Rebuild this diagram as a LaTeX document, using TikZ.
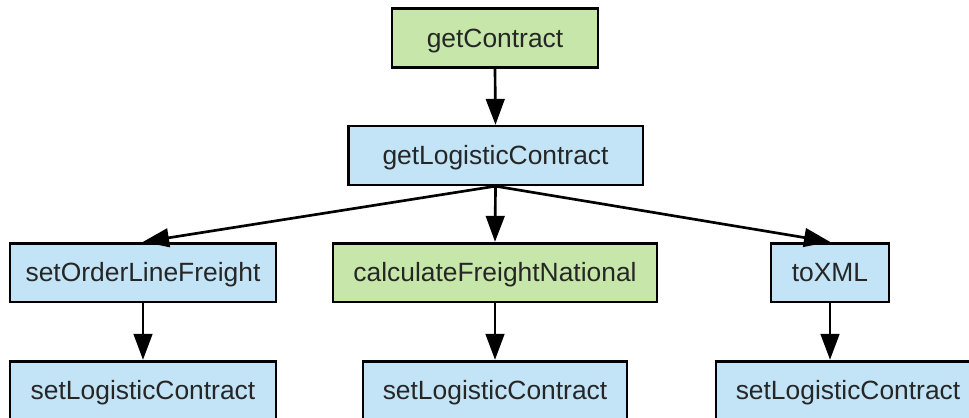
\documentclass[tikz,border=0pt]{standalone}
\usepackage{fontspec}
\setmainfont{Liberation Sans}
\usetikzlibrary{arrows.meta}
\definecolor{callgreen}{HTML}{C6E7A9}
\definecolor{callblue}{HTML}{C3E4F6}
\definecolor{labelgray}{HTML}{262626}
\begin{document}
\begin{tikzpicture}[x=0.75pt,y=-0.75pt,
  fn/.style={draw=black, line width=2pt, inner sep=0pt, minimum height=44pt,
    text height=14pt, text depth=0pt,
    text=labelgray, font=\fontsize{19.8pt}{24pt}\selectfont},
  fngreen/.style={fn, fill=callgreen},
  fnblue/.style={fn, fill=callblue},
  call/.style={line width=2pt, -{Triangle[length=19.5pt,width=14pt]}}]
\useasboundingbox (0,0) rectangle (969,417);

% root and its single callee
\node[fngreen, minimum width=154.5pt] (gc)  at (495,38)    {getContract};
\node[fnblue,  minimum width=221pt]   (glc) at (495.5,155.5) {getLogisticContract};

% second level
\node[fnblue,  minimum width=199.5pt] (solf) at (143,272.5) {setOrderLineFreight};
\node[fngreen, minimum width=243pt]   (cfn)  at (495,272.5) {calculateFreightNational};
\node[fnblue,  minimum width=88.5pt]  (xml)  at (830,272.5) {toXML};

% third level
\node[fnblue, minimum width=199.5pt] (slc1) at (143,390.5) {setLogisticContract};
\node[fnblue, minimum width=198pt]   (slc2) at (495,390.5) {setLogisticContract};
\node[fnblue, minimum width=198pt]   (slc3) at (848,390.5) {setLogisticContract};

% calls
\draw[call] (gc.south) -- (glc.north);
\draw[call] (glc.south) -- (solf.north);
\draw[call] (glc.south) -- (cfn.north);
\draw[call] (glc.south) -- (xml.north);
\draw[call] (solf.south) -- (slc1.north);
\draw[call] (cfn.south) -- (slc2.north);
\draw[call] (xml.south) -- (xml.south |- slc3.north);
\end{tikzpicture}
\end{document}
